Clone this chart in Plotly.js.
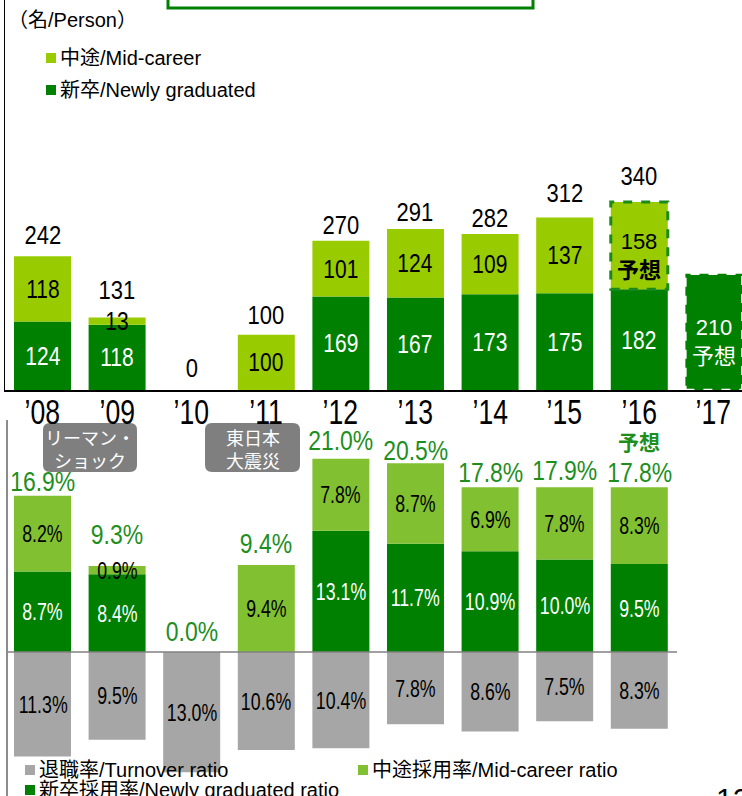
<!DOCTYPE html>
<html>
<head>
<meta charset="utf-8">
<script src="https://cdn.plot.ly/plotly-3.0.1.min.js"></script>
<style>html,body{margin:0;padding:0;background:#fff;}#chart{width:742px;height:796px;}</style>
</head>
<body>
<div id="chart"></div>
<script>
// ---------- data ----------
const years = ["’08","’09","’10","’11","’12","’13","’14","’15","’16","’17"];
const newGradHires = [124,118,0,0,169,167,173,175,182,210];
const midCareerHires = [118,13,0,100,101,124,109,137,158,null];
const totalHires = [242,131,0,100,270,291,282,312,340,null];
const forecastMidYear = "’16";
const forecastNewYear = "’17";

const ratioYears = ["’08","’09","’10","’11","’12","’13","’14","’15","’16"];
const newGradRatio = [8.7,8.4,0.0,0.0,13.1,11.7,10.9,10.0,9.5];
const midCareerRatio = [8.2,0.9,0.0,9.4,7.8,8.7,6.9,7.8,8.3];
const turnoverRatio = [11.3,9.5,13.0,10.6,10.4,7.8,8.6,7.5,8.3];
const hireRatioTotal = [16.9,9.3,0.0,9.4,21.0,20.5,17.8,17.9,17.8];
const forecastRatioYear = "’16";

// label nudges (pixels above bar top), layout only
const totalLabelShift = [21,28,22,20,16,17,16,24,26];
const ratioLabelShift = [14,31,20,22,17,12,15,16,15];

// ---------- styling ----------
const W = 742, H = 796;
const PX = p => p / W, PY = p => 1 - p / H;
const DARK = '#008000', LIGHT_TOP = '#99CC00', LIGHT_BOT = '#80C031', GRAY = '#A6A6A6';
const GREEN_TXT = '#1E8F1E';
const FONT = '"Liberation Sans", Arial, sans-serif';
const JFONT = '"Liberation Sans", "Noto Sans CJK JP", sans-serif';

const traces = [
  {type:'bar', x:years, y:newGradHires, marker:{color:DARK}, xaxis:'x', yaxis:'y', hoverinfo:'skip', showlegend:false},
  {type:'bar', x:years, y:midCareerHires, marker:{color:LIGHT_TOP}, xaxis:'x', yaxis:'y', hoverinfo:'skip', showlegend:false},
  {type:'bar', x:ratioYears, y:newGradRatio, marker:{color:DARK}, xaxis:'x2', yaxis:'y2', hoverinfo:'skip', showlegend:false},
  {type:'bar', x:ratioYears, y:midCareerRatio, marker:{color:LIGHT_BOT}, xaxis:'x2', yaxis:'y2', hoverinfo:'skip', showlegend:false},
  {type:'bar', x:ratioYears, y:turnoverRatio.map(v => -v), marker:{color:GRAY}, xaxis:'x2', yaxis:'y2', hoverinfo:'skip', showlegend:false}
];

const ann = [];
const annScale = [];
const shapes = [];
function addAnn(a, scale) {
  a.showarrow = false;
  if (!a.xanchor) a.xanchor = 'center';
  if (!a.yanchor) a.yanchor = 'middle';
  ann.push(a);
  annScale.push(scale || 1);
}

// year labels under the top chart (narrow gothic look)
years.forEach(yr => addAnn({x:yr, y:0, xref:'x', yref:'y', text:yr, yshift:-21,
  font:{family:FONT, size:35, color:'#000'}}, 0.76));

// top chart labels
years.forEach((yr, i) => {
  const ng = newGradHires[i] || 0, mc = midCareerHires[i] || 0;
  if (ng > 0) {
    const fc = yr === forecastNewYear;
    addAnn({x:yr, y:ng/2, xref:'x', yref:'y', text: ng + (fc ? '<br>予想' : ''),
      font:{family: fc ? JFONT : FONT, size: fc ? 22 : 25, color:'#fff'}, yshift: fc ? -10 : 0}, fc ? 1 : 0.84);
  }
  if (mc > 0) {
    const fc = yr === forecastMidYear;
    addAnn({x:yr, y:ng + mc/2, xref:'x', yref:'y', text: mc + (fc ? '<br><b>予想</b>' : ''),
      font:{family: fc ? JFONT : FONT, size: fc ? 22 : 25, color:'#000'}, yshift: fc ? -10 : 0}, fc ? 1 : 0.84);
  }
  if (totalHires[i] !== null) {
    addAnn({x:yr, y:totalHires[i], xref:'x', yref:'y', text: String(totalHires[i]),
      font:{family:FONT, size:25, color:'#000'}, yshift: totalLabelShift[i]}, 0.88);
  }
});

// forecast dashed outlines
const half = 0.382;
const iMid = years.indexOf(forecastMidYear);
shapes.push({type:'rect', xref:'x', yref:'y', x0:iMid-half, x1:iMid+half,
  y0:newGradHires[iMid], y1:newGradHires[iMid] + midCareerHires[iMid],
  line:{color:'#1A8A1A', width:3, dash:'dash'}, fillcolor:'rgba(0,0,0,0)', layer:'above'});
const iNew = years.indexOf(forecastNewYear);
shapes.push({type:'rect', xref:'x', yref:'y', x0:iNew-half, x1:iNew+half,
  y0:0, y1:newGradHires[iNew],
  line:{color:'#fff', width:2.5, dash:'dash'}, fillcolor:'rgba(0,0,0,0)', layer:'above'});

// bottom chart labels
ratioYears.forEach((yr, i) => {
  const ng = newGradRatio[i], mc = midCareerRatio[i], to = turnoverRatio[i];
  if (ng > 0) addAnn({x:yr, y:ng/2, xref:'x2', yref:'y2', text: ng.toFixed(1)+'%',
    font:{family:FONT, size:24, color:'#fff'}}, 0.74);
  if (mc > 0) addAnn({x:yr, y:ng + mc/2, xref:'x2', yref:'y2', text: mc.toFixed(1)+'%',
    font:{family:FONT, size:24, color:'#000'}}, 0.74);
  addAnn({x:yr, y:-to/2, xref:'x2', yref:'y2', text: to.toFixed(1)+'%',
    font:{family:FONT, size:24, color:'#000'}}, 0.74);
  addAnn({x:yr, y:hireRatioTotal[i], xref:'x2', yref:'y2', text: hireRatioTotal[i].toFixed(1)+'%',
    font:{family:FONT, size:28, color:GREEN_TXT}, yshift: ratioLabelShift[i]}, 0.82);
  if (yr === forecastRatioYear) {
    addAnn({x:yr, y:hireRatioTotal[i], xref:'x2', yref:'y2', text:'<b>予想</b>',
      font:{family:JFONT, size:21, color:GREEN_TXT}, yshift: ratioLabelShift[i] + 30});
  }
});

// zero line and left line of bottom chart
shapes.push({type:'line', xref:'paper', yref:'y2', x0:PX(7), x1:PX(677), y0:0, y1:0, line:{color:'#808080', width:1.5}});
shapes.push({type:'line', xref:'paper', yref:'paper', x0:PX(7), x1:PX(7), y0:PY(420), y1:PY(796), line:{color:'#8C8C8C', width:2}});

// title box (cut off at top)
shapes.push({type:'rect', xref:'paper', yref:'paper', x0:PX(168), x1:PX(533), y0:PY(8), y1:PY(-20),
  line:{color:'#008000', width:3}, fillcolor:'rgba(0,0,0,0)'});

// rounded label boxes
function rrect(x0, y0, x1, y1, r) {
  const a = PX(x0), b = PX(x1), t = PY(y0), u = PY(y1), rx = r / W, ry = r / H;
  return `M${a+rx},${t} L${b-rx},${t} Q${b},${t} ${b},${t-ry} L${b},${u+ry} Q${b},${u} ${b-rx},${u} L${a+rx},${u} Q${a},${u} ${a},${u+ry} L${a},${t-ry} Q${a},${t} ${a+rx},${t} Z`;
}
const events = [
  {text:'リーマン・<br>ショック', x0:43, x1:137},
  {text:'東日本<br>大震災', x0:205, x1:300}
];
events.forEach(e => {
  shapes.push({type:'path', xref:'paper', yref:'paper', path: rrect(e.x0, 423, e.x1, 472, 7),
    fillcolor:'#7F7F7F', line:{width:0}});
  addAnn({xref:'paper', yref:'paper', x:PX((e.x0+e.x1)/2), y:PY(448), text:e.text,
    font:{family:'"Noto Sans CJK JP", sans-serif', size:18, color:'#fff'}});
});

// legends (top)
addAnn({xref:'paper', yref:'paper', x:PX(6), y:PY(20), xanchor:'left', text:'（名/Person）',
  font:{family:JFONT, size:20, color:'#000'}});
const topLegend = [
  {label:'中途/Mid-career', color:LIGHT_TOP, y:58},
  {label:'新卒/Newly graduated', color:DARK, y:90}
];
topLegend.forEach(l => {
  shapes.push({type:'rect', xref:'paper', yref:'paper', x0:PX(46), x1:PX(56), y0:PY(l.y-5), y1:PY(l.y+5), fillcolor:l.color, line:{width:0}});
  addAnn({xref:'paper', yref:'paper', x:PX(58), y:PY(l.y), xanchor:'left', text:l.label,
    font:{family:JFONT, size:20, color:'#000'}});
});
// legends (bottom)
const botLegend = [
  {label:'退職率/Turnover ratio', color:GRAY, x:25, y:770},
  {label:'中途採用率/Mid-career ratio', color:LIGHT_BOT, x:358, y:770},
  {label:'新卒採用率/Newly graduated ratio', color:DARK, x:25, y:790}
];
botLegend.forEach(l => {
  shapes.push({type:'rect', xref:'paper', yref:'paper', x0:PX(l.x), x1:PX(l.x+10), y0:PY(l.y-5), y1:PY(l.y+5), fillcolor:l.color, line:{width:0}});
  addAnn({xref:'paper', yref:'paper', x:PX(l.x+12), y:PY(l.y), xanchor:'left', text:l.label,
    font:{family:JFONT, size:20, color:'#000'}});
});

// page number (cut off)
addAnn({xref:'paper', yref:'paper', x:PX(714), y:PY(780), xanchor:'left', yanchor:'top', text:'12',
  font:{family:FONT, size:30, color:'#000'}});

const xr = [-0.5, 9.377];
const layout = {
  width: W, height: H,
  margin:{l:0, r:0, t:0, b:0},
  paper_bgcolor:'#fff', plot_bgcolor:'rgba(0,0,0,0)',
  barmode:'relative', bargap:0.236,
  showlegend:false,
  font:{family:FONT},
  xaxis:{domain:[PX(5.2), 1], range:xr, type:'category', categoryarray:years, categoryorder:'array',
    showline:true, linecolor:'#000', linewidth:1.5, ticks:'', showgrid:false, zeroline:false,
    showticklabels:false, anchor:'y', fixedrange:true},
  yaxis:{domain:[PY(390), 1], range:[0, 705], showline:true, linecolor:'#000', linewidth:1.5,
    showticklabels:false, ticks:'', showgrid:false, zeroline:false, anchor:'x', fixedrange:true},
  xaxis2:{domain:[PX(5.2), 1], range:xr, type:'category', categoryarray:years, categoryorder:'array',
    showline:false, showticklabels:false, ticks:'', showgrid:false, zeroline:false, anchor:'y2', fixedrange:true},
  yaxis2:{domain:[0, PY(420)], range:[-15.57, 25.08], showline:false, showticklabels:false, ticks:'',
    showgrid:false, zeroline:false, anchor:'x2', fixedrange:true},
  annotations: ann,
  shapes: shapes
};

Plotly.newPlot('chart', traces, layout, {displayModeBar:false, staticPlot:true}).then(gd => {
  // narrow numeric labels to mimic the condensed gothic digits of the original
  gd.querySelectorAll('g.annotation').forEach(g => {
    const idx = +g.getAttribute('data-index');
    const s = annScale[idx];
    const t = g.querySelector('text.annotation-text');
    if (t && s && s !== 1) {
      t.style.transformBox = 'fill-box';
      t.style.transformOrigin = 'center';
      t.style.transform = 'scaleX(' + s + ')';
    }
  });
});
</script>
</body>
</html>
